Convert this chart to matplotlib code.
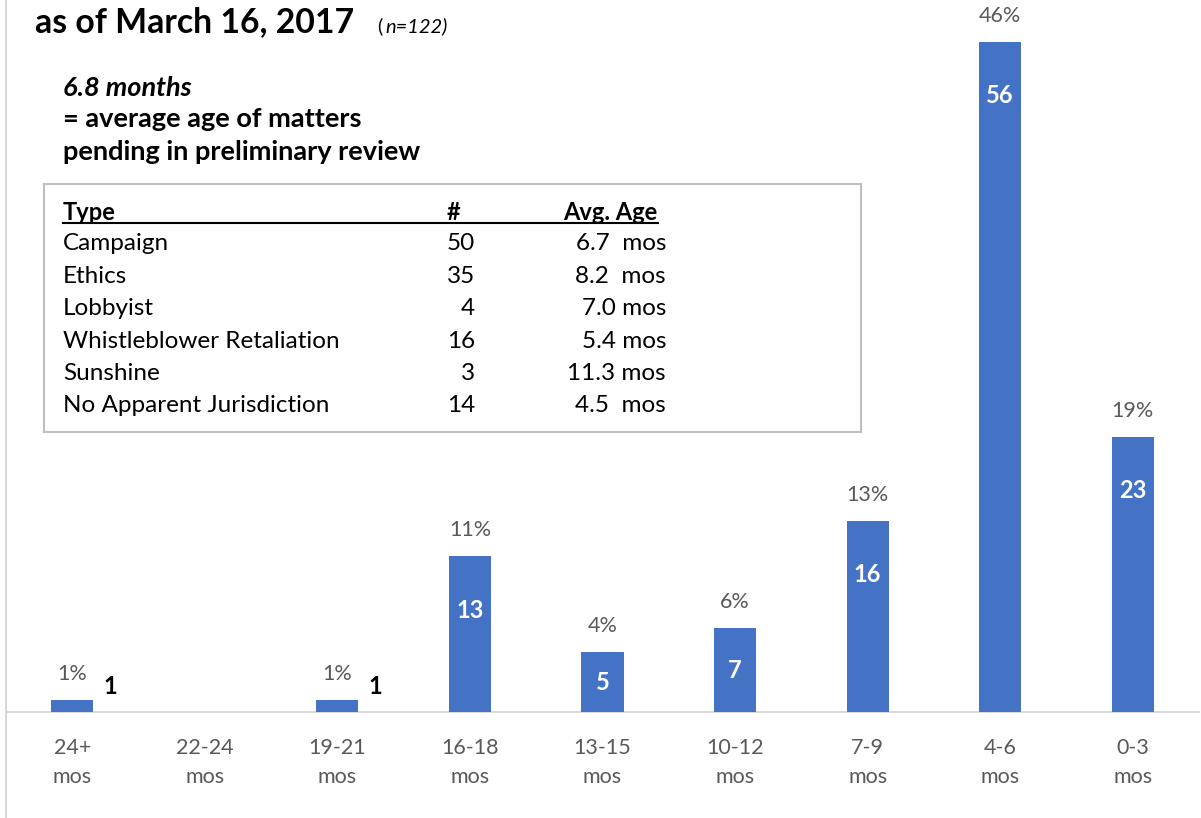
import matplotlib
matplotlib.use("Agg")
import matplotlib.pyplot as plt
from matplotlib.patches import Rectangle
from matplotlib.lines import Line2D

plt.rcParams['font.family'] = ['Lato', 'DejaVu Sans']

# ---- data ----
categories = ["24+\nmos", "22-24\nmos", "19-21\nmos", "16-18\nmos", "13-15\nmos",
              "10-12\nmos", "7-9\nmos", "4-6\nmos", "0-3\nmos"]
counts = [1, 0, 1, 13, 5, 7, 16, 56, 23]
percents = ["1%", "", "1%", "11%", "4%", "6%", "13%", "46%", "19%"]

table_types = ["Campaign", "Ethics", "Lobbyist", "Whistleblower Retaliation",
               "Sunshine", "No Apparent Jurisdiction"]
table_counts = ["50", "35", "4", "16", "3", "14"]
table_ages = ["6.7  mos", "8.2  mos", "7.0 mos", "5.4 mos", "11.3 mos", "4.5  mos"]

title = "as of March 16, 2017"
avg_lines = ["6.8 months", "= average age of matters", "pending in preliminary review"]

W, H = 1201, 818
fig = plt.figure(figsize=(W / 100, H / 100), dpi=100)
fig.patch.set_facecolor("white")


def fx(x):
    return x / W


def fy(y):
    return 1 - y / H


ax = fig.add_axes([fx(6), fy(712), fx(1199) - fx(6), fy(0) - fy(712)])
ax.set_facecolor("none")
xs = list(range(len(categories)))
bar_color = "#4472C4"
bars = ax.bar(xs, counts, width=0.317, color=bar_color, zorder=3)
ax.set_xlim(-0.5, len(categories) - 0.5)
ax.set_ylim(0, 59.5)
for s in ["top", "right", "left"]:
    ax.spines[s].set_visible(False)
ax.spines["bottom"].set_color("#D9D9D9")
ax.spines["bottom"].set_linewidth(1.5)
ax.set_yticks([])
ax.set_xticks(xs)
ax.set_xticklabels(categories, color="#595959", fontsize=15.5, linespacing=1.55)
ax.tick_params(axis="x", length=0, pad=19)

px_per_unit = 712 / 59.5
for x, c, p in zip(xs, counts, percents):
    if c == 0:
        continue
    ax.annotate(p, (x, c), xytext=(0, 26), textcoords="offset pixels",
                ha="center", va="center", color="#595959", fontsize=15.5)
    hpx = c * px_per_unit
    if c <= 2:
        ax.annotate(str(c), (x, c), xytext=(38, 14), textcoords="offset pixels",
                    ha="center", va="center", color="black", fontsize=17,
                    fontweight="bold")
    else:
        off = min(54, hpx / 2)
        ax.annotate(str(c), (x, c), xytext=(0, -off), textcoords="offset pixels",
                    ha="center", va="center", color="white", fontsize=17,
                    fontweight="bold")

# left vertical border line
fig.add_artist(Line2D([fx(6), fx(6)], [0, 1], color="#D9D9D9", lw=1.5))

# title
fig.text(fx(35), fy(22), title, fontsize=24.3, fontweight="bold", ha="left",
         va="center", color="black")
fig.text(fx(377), fy(26), "(", fontsize=14.5, ha="left", va="center")
fig.text(fx(385), fy(26), "n=122)", fontsize=14.5, ha="left", va="center",
         style="italic")

# average annotation
fig.text(fx(63), fy(88), avg_lines[0], fontsize=19.5, fontweight="bold",
         style="italic", ha="left", va="center")
fig.text(fx(63), fy(119), avg_lines[1], fontsize=19.5, fontweight="bold",
         ha="left", va="center")
fig.text(fx(63), fy(152), avg_lines[2], fontsize=19.5, fontweight="bold",
         ha="left", va="center")

# table box
fig.add_artist(Rectangle((fx(44), fy(432)), fx(861) - fx(44), fy(184) - fy(432),
                         transform=fig.transFigure, fill=False,
                         edgecolor="#BFBFBF", lw=1.5))
hy = 212
fig.text(fx(63), fy(hy), "Type", fontsize=17, fontweight="bold", ha="left", va="center")
fig.text(fx(447), fy(hy), "#", fontsize=17, fontweight="bold", ha="left", va="center")
fig.text(fx(563), fy(hy), "Avg. Age", fontsize=17, fontweight="bold", ha="left", va="center")
fig.add_artist(Line2D([fx(63), fx(658)], [fy(223), fy(223)], color="black", lw=1.5))

row_y0, row_dy = 244, 32.4
for i, (t, n, a) in enumerate(zip(table_types, table_counts, table_ages)):
    y = row_y0 + i * row_dy
    fig.text(fx(63), fy(y), t, fontsize=17.5, ha="left", va="center", color="black")
    fig.text(fx(475), fy(y), n, fontsize=17.5, ha="right", va="center", color="black")
    fig.text(fx(666), fy(y), a, fontsize=17.5, ha="right", va="center", color="black")

fig.savefig("out.png", dpi=100, facecolor="white")
